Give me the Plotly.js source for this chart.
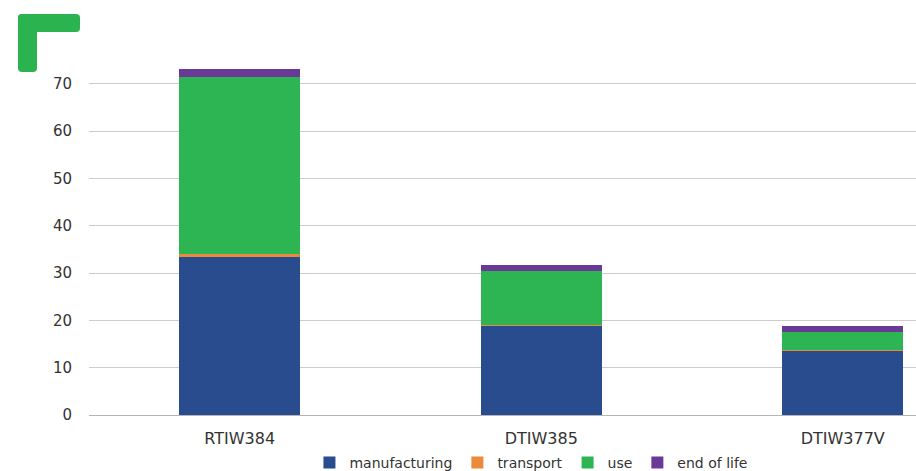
<!DOCTYPE html>
<html>
<head>
<meta charset="utf-8">
<script src="https://cdn.plot.ly/plotly-3.0.1.min.js"></script>
<style>
  html, body { margin: 0; padding: 0; background: #fff; }
  #chart { width: 916px; height: 471px; }
  #corner1 { position: absolute; left: 18px; top: 14px; width: 19px; height: 58px; background: #2bb34f; border-radius: 4px; }
  #corner2 { position: absolute; left: 18px; top: 14px; width: 62px; height: 18px; background: #2bb34f; border-radius: 4px; }
</style>
</head>
<body>
<div id="chart"></div>
<div id="corner1"></div>
<div id="corner2"></div>
<script>
const categories = ["RTIW384", "DTIW385", "DTIW377V"];
const manufacturing = [33.4, 18.8, 13.5];
const transport = [0.7, 0.3, 0.2];
const use = [37.3, 11.3, 3.9];
const endOfLife = [1.7, 1.3, 1.2];
const yTicks = [0, 10, 20, 30, 40, 50, 60, 70];

const seriesNames = ["manufacturing", "transport", "use", "end of life"];
const seriesValues = [manufacturing, transport, use, endOfLife];
const seriesColors = ["#284c8e", "#ec8a3c", "#2db553", "#6a3996"];

const data = seriesValues.map((vals, i) => ({
  type: "bar",
  name: seriesNames[i],
  x: categories,
  y: vals,
  marker: { color: seriesColors[i], line: { width: 0 } },
  hoverinfo: "x+y+name"
}));

const layout = {
  width: 916,
  height: 471,
  margin: { l: 89, r: 0, t: 65, b: 56, autoexpand: false },
  paper_bgcolor: "#ffffff",
  plot_bgcolor: "#ffffff",
  barmode: "stack",
  bargap: 0.6,
  font: { family: "DejaVu Sans, sans-serif", color: "#333333", size: 14 },
  xaxis: {
    type: "category",
    range: [-0.5, 2.243],
    showgrid: false,
    showline: false,
    zeroline: false,
    ticks: "outside",
    ticklen: 9,
    tickcolor: "rgba(0,0,0,0)",
    tickfont: { size: 16, color: "#333333" },
    automargin: false
  },
  yaxis: {
    range: [0, 74],
    tickvals: yTicks,
    ticktext: yTicks.map(String),
    showgrid: true,
    gridcolor: "#cccccc",
    gridwidth: 1,
    zeroline: true,
    zerolinecolor: "#b5b5b5",
    zerolinewidth: 1,
    showline: false,
    ticks: "outside",
    ticklen: 13,
    tickcolor: "rgba(0,0,0,0)",
    tickfont: { size: 15, color: "#333333" },
    automargin: false
  },
  showlegend: true,
  legend: {
    orientation: "h",
    x: 0.535,
    xanchor: "center",
    y: -0.137,
    yanchor: "middle",
    font: { size: 14, color: "#333333" },
    itemwidth: 30,
    tracegroupgap: 0,
    traceorder: "normal"
  }
};

Plotly.newPlot("chart", data, layout, { displayModeBar: false, staticPlot: true });
</script>
</body>
</html>
